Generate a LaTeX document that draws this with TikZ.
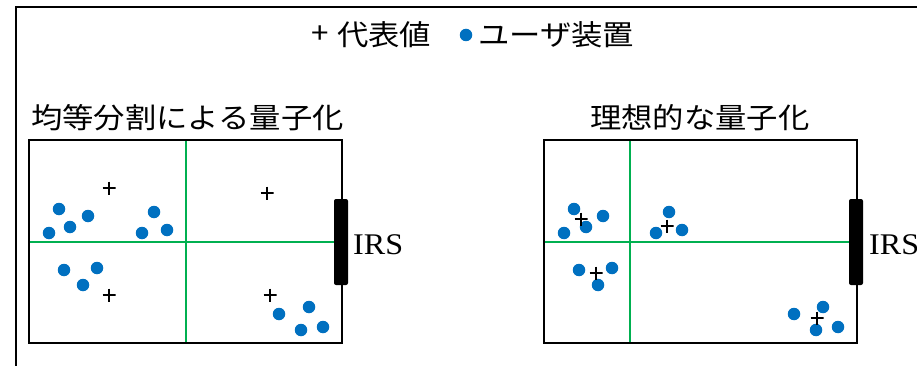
\documentclass[tikz,border=0pt]{standalone}
\usepackage{fontspec}
\newfontfamily\jp[FakeStretch=1.1]{Noto Sans CJK JP}
\newfontfamily\irsfont[FakeStretch=1.07]{Liberation Serif}
\definecolor{dotblue}{RGB}{0,112,192}
\definecolor{gridgreen}{RGB}{0,176,80}
\tikzset{
  frameline/.style={line width=2.4pt, black},
  gridline/.style={line width=1.5pt, gridgreen},
  udot/.style={circle, fill=dotblue, minimum size=12.5pt, inner sep=0pt},
  rep/.style={minimum size=13pt, inner sep=0pt,
    path picture={\draw[line width=2.2pt]
      (path picture bounding box.north) -- (path picture bounding box.south)
      (path picture bounding box.west) -- (path picture bounding box.east);}},
  jptext/.style={inner sep=0pt, font=\jp\fontsize{28.5}{30}\selectfont},
  irstext/.style={inner sep=0pt, anchor=west, font=\irsfont\fontsize{30}{32}\selectfont},
  irsbar/.style={fill=black, rounded corners=2pt},
}
\begin{document}
\begin{tikzpicture}[x=1pt,y=-1pt]
\useasboundingbox (0,0) rectangle (917,366);
% outer frame
\draw[frameline] (16,370) -- (16,7) -- (920,7);
% legend
\node[jptext] (lplus) at (320,35) {+};
\node[jptext, anchor=west] (lrep) at (337,35) {代表値};
\node[udot] (ldot) at (466,35) {};
\node[jptext, anchor=west] (luser) at (478,35) {ユーザ装置};
% titles
\node[jptext, anchor=west] (t1) at (31,118) {均等分割による量子化};
\node[jptext, anchor=west] (t2) at (590,118) {理想的な量子化};

% left box
\draw[gridline] (186,140) -- (186,343);
\draw[gridline] (29,242) -- (334,242);
\draw[frameline] (29,140) rectangle (342,343);
\node[irsbar, minimum width=14pt, minimum height=86pt, inner sep=0pt] (bar1) at (341,242) {};
\node[irstext] (irs1) at (353,245) {IRS};
% left dots
\foreach \x/\y in {59/209,88/216,70/227,49/233,154/212,142/233,167/230,64/270,97/268,83/285,279/314,309/307,301/330,323/327}
  \node[udot] at (\x,\y) {};
\foreach \x/\y in {109/188,267/193,109/295,270/295}
  \node[rep] at (\x,\y) {};

% right box
\draw[gridline] (630,140) -- (630,343);
\draw[gridline] (544,242) -- (850,242);
\draw[frameline] (544,140) rectangle (857,343);
\node[irsbar, minimum width=14pt, minimum height=86pt, inner sep=0pt] (bar2) at (856,242) {};
\node[irstext] (irs2) at (869,245) {IRS};
\foreach \x/\y in {574/209,603/216,586/227,564/233,669/212,656/233,682/230,579/270,612/268,598/285,794/314,823/307,816/330,838/327}
  \node[udot] at (\x,\y) {};
\foreach \x/\y in {581/219,667/226,596/273,817/318}
  \node[rep] at (\x,\y) {};
\end{tikzpicture}
\end{document}
